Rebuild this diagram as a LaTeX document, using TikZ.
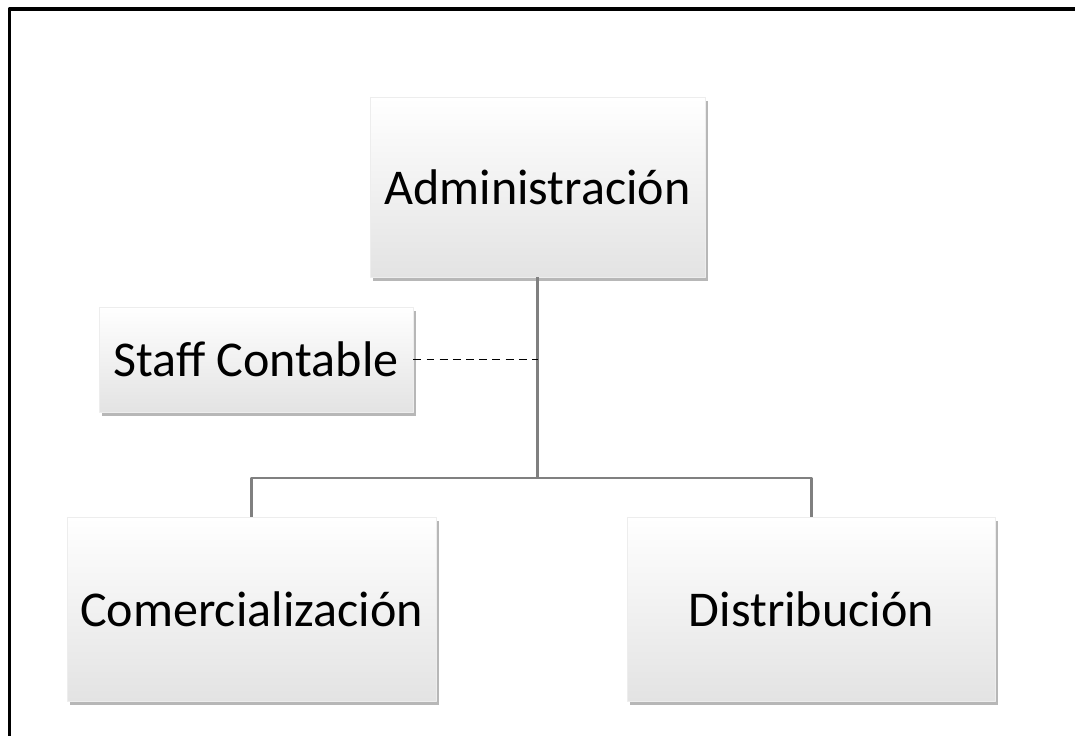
\documentclass[tikz,border=0pt]{standalone}
\usepackage{fontspec}
\setmainfont{Carlito}
\usetikzlibrary{positioning,shadows}

\tikzset{
  caja/.style={rectangle, draw=black!7, top color=white, middle color=white, bottom color=black!11,
    drop shadow={shadow xshift=1.5pt, shadow yshift=-2.5pt, opacity=0.4, fill=black!70},
    inner sep=0pt, font=\fontsize{28.5}{34}\selectfont},
  linea/.style={draw=black!50, line width=1.6pt},
}

\begin{document}
\begin{tikzpicture}[line join=round]
\useasboundingbox (0,0) rectangle (21.5,14.72);
% marco superior e izquierdo
\draw[line width=2.2pt] (0.19,0) -- (0.19,14.54) -- (21.5,14.54);

\node[caja, minimum width=6.70cm, minimum height=3.60cm] (admin) at (10.75,10.98) {Administración};
\node[caja, minimum width=6.28cm, minimum height=2.10cm] (staff) at (5.12,7.53) {Staff Contable};
\node[caja, minimum width=7.38cm, minimum height=3.68cm] (comer) at (5.03,2.54) {Comercialización};
\node[caja, minimum width=7.36cm, minimum height=3.68cm] (distr) at (16.23,2.54) {Distribución};

\coordinate (union) at (admin.south |- 0,5.16);
\draw[linea] (admin.south) -- (union);
\draw[linea] (comer.north) |- (union) -| (distr.north);
\draw[dash pattern=on 4.5pt off 3pt, line width=0.9pt] (staff.east) -- (staff.east -| admin.south);
\end{tikzpicture}
\end{document}
